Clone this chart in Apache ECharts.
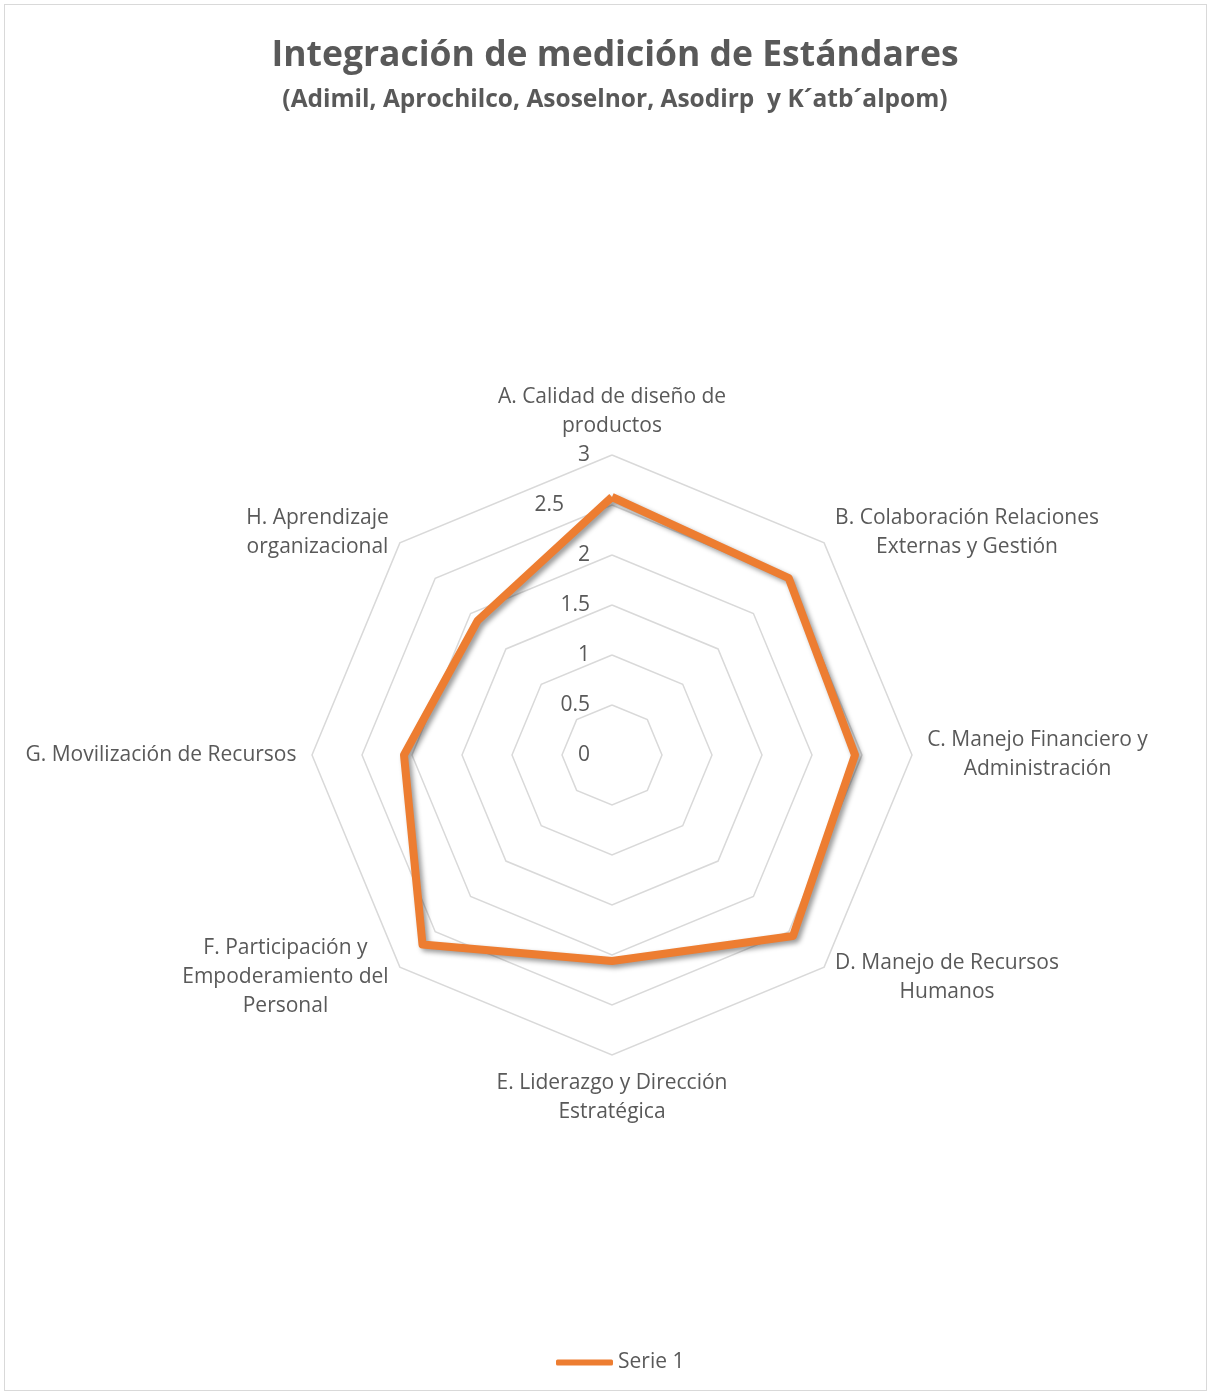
<!DOCTYPE html>
<html>
<head>
<meta charset="utf-8">
<script src="https://cdn.jsdelivr.net/npm/echarts@6/dist/echarts.min.js"></script>
<style>
  html, body { margin: 0; padding: 0; background: #fff; }
  #chart {
    position: absolute; left: 4px; top: 4px;
    width: 1203px; height: 1387px;
    border: 1px solid #d9d9d9; box-sizing: border-box;
  }
</style>
</head>
<body>
<div id="chart"></div>
<script>
// datos del gráfico (orden del dibujo en sentido horario, desde arriba)
const categories = [
  'A. Calidad de diseño de\nproductos',
  'B. Colaboración Relaciones\nExternas y Gestión',
  'C. Manejo Financiero y\nAdministración',
  'D. Manejo de Recursos\nHumanos',
  'E. Liderazgo y Dirección\nEstratégica',
  'F. Participación y\nEmpoderamiento del\nPersonal',
  'G. Movilización de Recursos',
  'H. Aprendizaje\norganizacional'
]
const serie1 = [2.58, 2.5, 2.43, 2.56, 2.06, 2.68, 2.08, 1.9]
const seriesName = 'Serie 1'
const axisMax = 3
const axisStep = 0.5
const titleText = 'Integración de medición de Estándares'
const subtitleText = '(Adimil, Aprochilco, Asoselnor, Asodirp  y K´atb´alpom)'

const font = '"Open Sans", "Liberation Sans", sans-serif'
const textColor = '#595959'
const labelSize = 21
const center = [607, 750]
const radius = 300

// ECharts recorre el radar en sentido antihorario: se invierte el orden
const order = [0, 7, 6, 5, 4, 3, 2, 1]
const radarNames = order.map(i => categories[i])
const radarValues = order.map(i => serie1[i])

// medidas de texto
const ctx = document.createElement('canvas').getContext('2d')
const textWidth = (txt, size, weight) => {
  ctx.font = (weight || 'normal') + ' ' + size + 'px "Open Sans"'
  return ctx.measureText(txt).width
}

// ancho de cada etiqueta para centrar sus líneas
const rich = {}
radarNames.forEach((name, i) => {
  const w = Math.max(...name.split('\n').map(l => textWidth(l, labelSize)))
  rich['n' + i] = {
    width: Math.ceil(w) + 2,
    align: 'center',
    fontFamily: font,
    fontSize: labelSize,
    lineHeight: 29,
    color: textColor
  }
})

const titleCenterX = 610
const chart = echarts.init(document.getElementById('chart'))
chart.setOption({
  animation: false,
  title: [
    {
      text: titleText,
      left: titleCenterX - textWidth(titleText, 35.5, 'bold') / 2 - 5,
      top: 28,
      textStyle: { fontFamily: font, fontSize: 35.5, fontWeight: 'bold', color: textColor }
    },
    {
      text: subtitleText,
      left: titleCenterX - textWidth(subtitleText, 24.5, 'bold') / 2 - 5,
      top: 78,
      textStyle: { fontFamily: font, fontSize: 24.5, fontWeight: 'bold', color: textColor }
    }
  ],
  legend: {
    bottom: 12,
    left: 546,
    icon: 'roundRect',
    itemWidth: 57,
    itemHeight: 6,
    itemGap: 4,
    textStyle: { fontFamily: font, fontSize: labelSize, color: textColor },
    data: [seriesName]
  },
  radar: {
    center: center,
    radius: radius,
    shape: 'polygon',
    startAngle: 90,
    splitNumber: axisMax / axisStep,
    indicator: radarNames.map(name => ({ name, min: 0, max: axisMax })),
    axisName: {
      formatter: (name) => {
        const i = radarNames.indexOf(name)
        return name.split('\n').map(l => '{n' + i + '|' + l + '}').join('\n')
      },
      rich: rich,
      fontFamily: font,
      fontSize: labelSize,
      color: textColor,
      lineHeight: 29
    },
    nameGap: 14,
    axisLine: { show: false },
    axisTick: { show: false },
    axisLabel: { show: false },
    splitArea: { show: false },
    splitLine: { lineStyle: { color: '#d9d9d9', width: 1.5 } }
  },
  polar: { center: center, radius: radius },
  angleAxis: { startAngle: 90, show: false, min: 0, max: 360 },
  radiusAxis: {
    min: 0,
    max: axisMax,
    interval: axisStep,
    axisLine: { show: false },
    axisTick: { show: false },
    splitLine: { show: false },
    axisLabel: {
      fontFamily: font,
      fontSize: labelSize,
      color: textColor,
      align: 'right',
      margin: 22,
      formatter: v => v === 2.5 ? '{s|' + v + '}' : String(v),
      rich: {
        s: { fontFamily: font, fontSize: labelSize, color: textColor, padding: [0, 26, 0, 0] }
      }
    }
  },
  series: [
    {
      name: seriesName,
      type: 'radar',
      symbol: 'none',
      lineStyle: {
        color: '#ED7D31',
        width: 8,
        shadowColor: 'rgba(0,0,0,0.4)',
        shadowBlur: 5,
        shadowOffsetX: 3,
        shadowOffsetY: 3
      },
      itemStyle: { color: '#ED7D31' },
      data: [{ value: radarValues, name: seriesName }]
    }
  ]
})
</script>
</body>
</html>
